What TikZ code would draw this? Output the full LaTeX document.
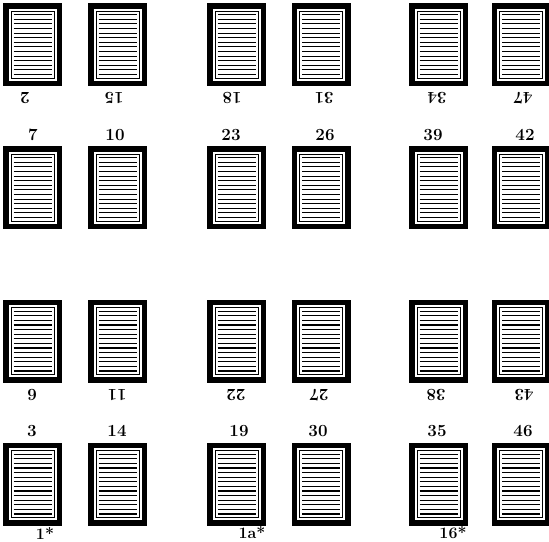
\documentclass[tikz,border=0pt]{standalone}
\usepackage{tikz}

\begin{document}
\begin{tikzpicture}[
            x=1pt, y=-1pt,
            pagebox/.style={fill=black, minimum width=59pt, minimum height=83pt, inner sep=0pt, outer sep=0pt,
                path picture={
                    \fill[white] ([shift={(5.5pt,5.5pt)}]path picture bounding box.south west) rectangle ([shift={(-5.5pt,-5.5pt)}]path picture bounding box.north east);
                    \draw[line width=0.9pt] ([shift={(8pt,8pt)}]path picture bounding box.south west) rectangle ([shift={(-8pt,-8pt)}]path picture bounding box.north east);
                    \foreach \k in {0,...,13}{
                        \draw[line width=1.1pt] ([shift={(10.5pt,11.5pt+\k*4.6pt)}]path picture bounding box.south west) -- ++(38pt,0pt);
                    }
                }},
            folio/.style={font=\fontsize{17}{20}\selectfont\bfseries, inner sep=0pt},
            upsidedown/.style={folio, rotate=180},
            signature/.style={font=\fontsize{16}{18}\selectfont\bfseries, inner sep=0pt}
        ]
            \useasboundingbox (0,0) rectangle (549,541);

            % pages
            \foreach \y/\r in {44.5/a, 187.5/b, 341/c, 484/d}{
                \foreach \x/\c in {32.5/1, 117.5/2, 236.5/3, 321/4, 438.5/5, 521/6}{
                    \node[pagebox] (p\r\c) at (\x,\y) {};
                }
            }

            % first row (upside down, below the pages)
            \node[upsidedown] (n2) at (25,98) {2};
            \node[upsidedown] (n15) at (114,98) {15};
            \node[upsidedown] (n18) at (232,98) {18};
            \node[upsidedown] (n31) at (324,98) {31};
            \node[upsidedown] (n34) at (437,98) {34};
            \node[upsidedown] (n47) at (523,98) {47};

            % second row (above the pages)
            \node[folio] (n7) at (33,135) {7};
            \node[folio] (n10) at (115,135) {10};
            \node[folio] (n23) at (231,135) {23};
            \node[folio] (n26) at (325,135) {26};
            \node[folio] (n39) at (433,135) {39};
            \node[folio] (n42) at (525,135) {42};

            % third row (upside down, below the pages)
            \node[upsidedown] (n6) at (32,395) {6};
            \node[upsidedown] (n11) at (117,395) {11};
            \node[upsidedown] (n22) at (236,395) {22};
            \node[upsidedown] (n27) at (319,395) {27};
            \node[upsidedown] (n38) at (436,395) {38};
            \node[upsidedown] (n43) at (524,395) {43};

            % fourth row (above the pages)
            \node[folio] (n3) at (32,431) {3};
            \node[folio] (n14) at (117,431) {14};
            \node[folio] (n19) at (239,431) {19};
            \node[folio] (n30) at (318,431) {30};
            \node[folio] (n35) at (437,431) {35};
            \node[folio] (n46) at (523,431) {46};

            % signatures
            \node[signature] (s1) at (45,533) {1*};
            \node[signature] (s1a) at (252,533) {1a*};
            \node[signature] (s16) at (453,533) {16*};

        \end{tikzpicture}
\end{document}
